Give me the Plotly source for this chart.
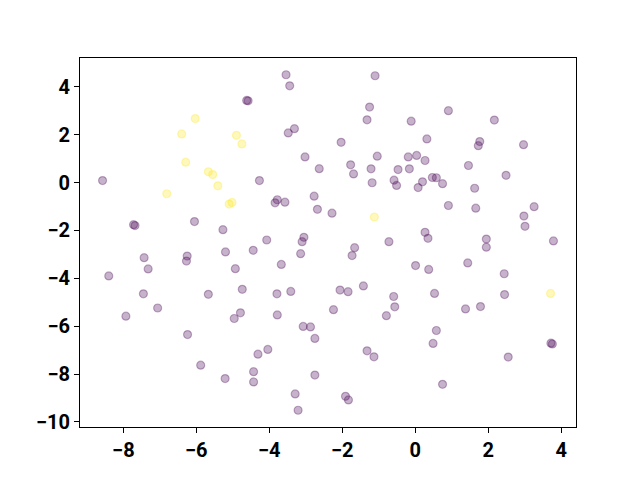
import plotly.graph_objects as go

# cluster 0 (purple)
x_purple = [-8.57, -7.72, -7.68, -6.05, -3.54, -3.44, -4.62, -4.58, -3.31, -3.48,
            -3.02, -2.63, -4.27, -2.77, -2.68, -3.78, -3.84, -3.57, -5.27, -4.07,
            -3.05, -3.10, -1.10, -1.25, -1.32, -0.11, 0.91, -2.03, 0.32, -1.04,
            -0.19, 0.04, 0.27, -1.77, -1.21, -0.47, -0.16, -1.69, -1.18, -0.58,
            -0.51, 0.20, 0.08, 0.47, 0.58, 0.75, 0.91, -2.28, 0.27, 0.35,
            -0.72, 2.17, 1.77, 1.73, 2.97, 1.46, 2.49, 1.63, 1.66, 3.26,
            2.98, 3.01, 1.95, 3.79, -7.43, -6.25, -6.27, -7.32, -8.40, -7.45,
            -7.06, -7.93, -6.24, -5.88, -3.14, -5.20, -4.44, -4.93,
            -3.67, -5.67, -4.74, -3.79, -3.41, -4.79, -4.96, -3.78, -3.07, -2.87,
            -2.75, -4.04, -4.31, -4.43, -5.21, -4.43, -2.75, -3.29, -3.21, -1.66,
            -1.73, 0.01, 0.37, -2.06, -1.84, -1.42, 0.53, -0.59, -0.56, -2.24,
            -0.79, 0.58, 0.49, -1.32, -1.13, 0.75, -1.91, -1.83, 1.95, 1.44,
            2.44, 2.45, 1.38, 1.79, 3.72, 3.76, 2.55]
y_purple = [0.08, -1.76, -1.80, -1.63, 4.50, 4.04, 3.43, 3.41, 2.25, 2.07,
            1.07, 0.58, 0.08, -0.57, -1.12, -0.72, -0.85, -0.82, -1.97, -2.40,
            -2.29, -2.47, 4.46, 3.15, 2.62, 2.56, 3.00, 1.68, 1.82, 1.10,
            1.07, 1.13, 0.92, 0.74, 0.57, 0.54, 0.57, 0.36, -0.01, 0.10,
            -0.12, 0.03, -0.21, 0.21, 0.20, -0.05, -0.96, -1.28, -2.08, -2.33,
            -2.47, 2.61, 1.71, 1.54, 1.58, 0.71, 0.30, -0.24, -1.07, -1.01,
            -1.40, -1.83, -2.36, -2.44, -3.14, -3.07, -3.28, -3.61, -3.90, -4.65,
            -5.24, -5.58, -6.35, -7.63, -2.97, -2.90, -2.83, -3.60,
            -3.42, -4.67, -4.46, -4.65, -4.55, -5.44, -5.68, -5.53, -6.01, -6.03,
            -6.51, -6.97, -7.17, -7.90, -8.19, -8.33, -8.04, -8.83, -9.51, -2.72,
            -3.05, -3.47, -3.63, -4.49, -4.56, -4.32, -4.63, -4.76, -5.19, -5.31,
            -5.56, -6.18, -6.72, -7.03, -7.28, -8.43, -8.93, -9.08, -2.70, -3.36,
            -3.81, -4.68, -5.28, -5.18, -6.71, -6.74, -7.29]

# cluster 1 (yellow)
x_yellow = [-6.03, -6.40, -6.29, -5.67, -5.55, -6.81, -4.90, -4.75, -5.41, -5.10,
            -5.02, -1.12, 3.71]
y_yellow = [2.67, 2.03, 0.85, 0.45, 0.33, -0.47, 1.97, 1.61, -0.14, -0.90,
            -0.83, -1.44, -4.63]

x_ticks = [-8, -6, -4, -2, 0, 2, 4]
y_ticks = [-10, -8, -6, -4, -2, 0, 2, 4]


def padded(vals, frac=0.05):
    lo, hi = min(vals), max(vals)
    pad = (hi - lo) * frac
    return [lo - pad, hi + pad]


fig = go.Figure()
for xs, ys, rgb in [(x_purple, y_purple, "68,1,84"), (x_yellow, y_yellow, "253,231,37")]:
    fig.add_trace(go.Scatter(
        x=xs, y=ys, mode="markers",
        marker=dict(size=8, color=f"rgba({rgb},0.3)",
                    line=dict(width=1.2, color=f"rgba({rgb},0.3)")),
        showlegend=False,
    ))

axis_style = dict(
    showgrid=False, zeroline=False, showline=True, linecolor="black", linewidth=1,
    mirror=True, ticks="outside", ticklen=5, tickwidth=1, tickcolor="black",
    tickfont=dict(family="Roboto", size=20, color="black", weight="bold"),
)
fig.update_xaxes(range=padded(x_purple + x_yellow), tickvals=x_ticks, **axis_style)
fig.update_yaxes(range=padded(y_purple + y_yellow), tickvals=y_ticks, **axis_style)

# the page body adds an 8px offset, so the margins are shifted to compensate
fig.update_layout(
    width=640, height=480,
    margin=dict(l=72, r=72, t=50, b=61, autoexpand=False),
    plot_bgcolor="white", paper_bgcolor="white",
)

fig.write_html("out.html")
